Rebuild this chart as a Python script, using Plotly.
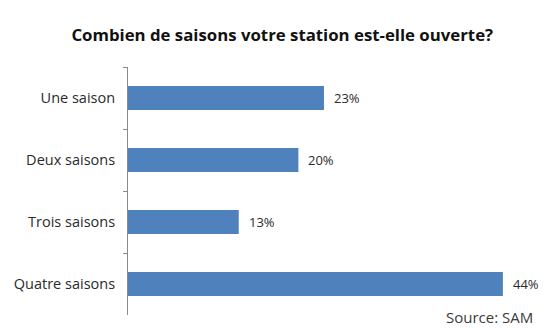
import plotly.graph_objects as go

categories = ["Une saison", "Deux saisons", "Trois saisons", "Quatre saisons"]
values = [23, 20, 13, 44]
value_labels = ["23%", "20%", "13%", "44%"]

title = "Combien de saisons votre station est-elle ouverte?"
source = "Source: SAM"

FONT = "'Open Sans', sans-serif"

fig = go.Figure()
fig.add_trace(go.Bar(
    x=values, y=categories, orientation="h",
    marker=dict(color="#4F81BD", line=dict(width=0)),
    width=0.39, hoverinfo="skip",
))

for v, c, t in zip(values, categories, value_labels):
    fig.add_annotation(x=v, y=c, text=t, showarrow=False, xanchor="left",
                       xshift=8, font=dict(family=FONT, size=13, color="#2a2a2a"))

fig.add_annotation(x=1, y=0, xref="paper", yref="paper", xanchor="right", yanchor="middle",
                   xshift=-20, yshift=-2, borderpad=0, text=source, showarrow=False,
                   font=dict(family=FONT, size=15, color="#3a3a3a"))

fig.update_layout(
    width=560, height=328,
    margin=dict(l=128, r=6, t=67, b=13),
    paper_bgcolor="white", plot_bgcolor="white",
    showlegend=False,
    title=dict(text="<b>" + title + "</b>", x=0.504, xanchor="center", y=0.893, yanchor="middle",
               font=dict(family=FONT, size=16.8, color="#111111")),
    xaxis=dict(range=[0, 50], visible=False, fixedrange=True),
    yaxis=dict(autorange="reversed", showline=True, linecolor="#8a8a8a", linewidth=1,
               ticks="outside", ticklen=4, tickcolor="#8a8a8a", tickson="boundaries",
               ticklabelstandoff=9, showgrid=False,
               tickfont=dict(family=FONT, size=14.5, color="#2a2a2a")),
)

fig.write_html("out.html")
